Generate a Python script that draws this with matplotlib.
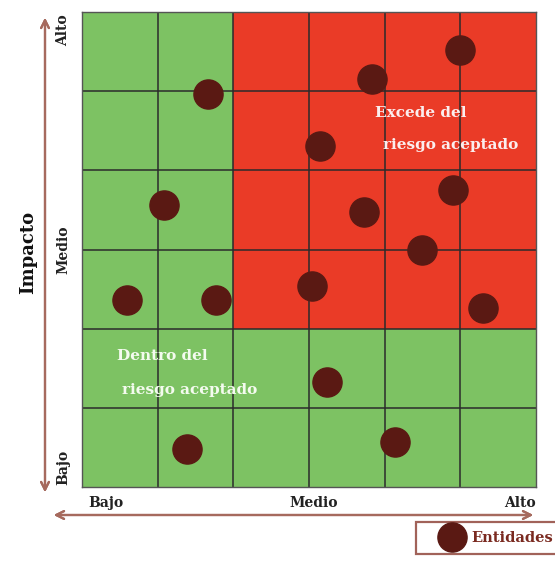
import matplotlib.pyplot as plt
from matplotlib.patches import Rectangle
from matplotlib.lines import Line2D

# probabilidad (x) e impacto (y) de cada entidad, escala 0-6
prob = [1.66, 1.08, 0.59, 1.77, 4.99, 3.83, 3.14, 4.90, 3.73, 4.50, 3.04, 5.30, 3.24, 1.39, 4.13]
impacto = [4.96, 3.56, 2.36, 2.36, 5.52, 5.15, 4.31, 3.75, 3.47, 3.00, 2.54, 2.26, 1.33, 0.48, 0.57]

# zona que excede el riesgo aceptado
zona_x = (2, 6)
zona_y = (2, 6)
niveles = ['Bajo', 'Medio', 'Alto']

verde = '#7dc263'
rojo = '#ea3b27'
punto = '#5a1913'
flecha = '#a66a5e'

W, H = 555, 566
fig = plt.figure(figsize=(W / 100, H / 100), dpi=100)
fig.patch.set_facecolor('white')

def fx(px):
    return px / W

def fy(py):
    return 1 - py / H

ax = fig.add_axes([fx(82), fy(487), (536 - 82) / W, (487 - 12) / H])
ax.set_facecolor(verde)
ax.add_patch(Rectangle((zona_x[0], zona_y[0]), zona_x[1] - zona_x[0], zona_y[1] - zona_y[0],
                       facecolor=rojo, edgecolor='none', zorder=1))
ax.set_xlim(0, 6)
ax.set_ylim(0, 6)
for i in range(1, 6):
    ax.axvline(i, color='#2b2b2b', lw=1.1, zorder=2)
    ax.axhline(i, color='#2b2b2b', lw=1.1, zorder=2)
ax.scatter(prob, impacto, s=440, color=punto, zorder=3, label='Entidades')
ax.set_xticks([])
ax.set_yticks([])
for s in ax.spines.values():
    s.set_color('#555555')
    s.set_linewidth(1)

fuente = ['DejaVu Serif']

ax.text(3.87, 4.72, 'Excede del', color='#fbeeee', fontsize=11, fontweight='bold',
        family=fuente, va='center')
ax.text(3.98, 4.32, 'riesgo aceptado', color='#fbeeee', fontsize=11, fontweight='bold',
        family=fuente, va='center')
ax.text(0.46, 1.65, 'Dentro del', color='#f4fbef', fontsize=11, fontweight='bold',
        family=fuente, va='center')
ax.text(0.53, 1.23, 'riesgo aceptado', color='#f4fbef', fontsize=11, fontweight='bold',
        family=fuente, va='center')

# etiquetas del eje x
fig.text(fx(88), fy(503), niveles[0], ha='left', va='center', fontsize=10,
         fontweight='bold', family=fuente, color='#222222')
fig.text(fx(314), fy(503), niveles[1], ha='center', va='center', fontsize=10,
         fontweight='bold', family=fuente, color='#222222')
fig.text(fx(536), fy(503), niveles[2], ha='right', va='center', fontsize=10,
         fontweight='bold', family=fuente, color='#222222')

# etiquetas del eje y
fig.text(fx(63), fy(14), niveles[2], ha='center', va='top', rotation=90, fontsize=10,
         fontweight='bold', family=fuente, color='#222222')
fig.text(fx(63), fy(250), niveles[1], ha='center', va='center', rotation=90, fontsize=10,
         fontweight='bold', family=fuente, color='#222222')
fig.text(fx(63), fy(485), niveles[0], ha='center', va='bottom', rotation=90, fontsize=10,
         fontweight='bold', family=fuente, color='#222222')
fig.text(fx(28), fy(252), 'Impacto', ha='center', va='center', rotation=90, fontsize=13,
         fontweight='bold', family=fuente, color='#111111')

# flechas
fig.add_artist(plt.annotate('', xy=(fx(536), fy(515)), xytext=(fx(51), fy(515)),
                            xycoords='figure fraction', textcoords='figure fraction',
                            arrowprops=dict(arrowstyle='<->', color=flecha, lw=1.6,
                                            mutation_scale=14)))
fig.add_artist(plt.annotate('', xy=(fx(45), fy(15)), xytext=(fx(45), fy(495)),
                            xycoords='figure fraction', textcoords='figure fraction',
                            arrowprops=dict(arrowstyle='<->', color=flecha, lw=1.6,
                                            mutation_scale=14)))

# leyenda
h = Line2D([], [], marker='o', ls='none', markersize=21, color=punto)
leg = fig.legend([h], ['Entidades'], loc='upper left', bbox_to_anchor=(fx(416), fy(522)),
                 borderaxespad=0, frameon=True, fancybox=False, handletextpad=-0.5,
                 borderpad=0.6, handlelength=3.7,
                 prop=dict(family=fuente, weight='bold', size=10.5))
leg.get_frame().set_edgecolor('#8a3b30')
leg.get_frame().set_linewidth(1.6)
for t in leg.get_texts():
    t.set_color('#7a2a20')

fig.savefig('out.png', dpi=100)
